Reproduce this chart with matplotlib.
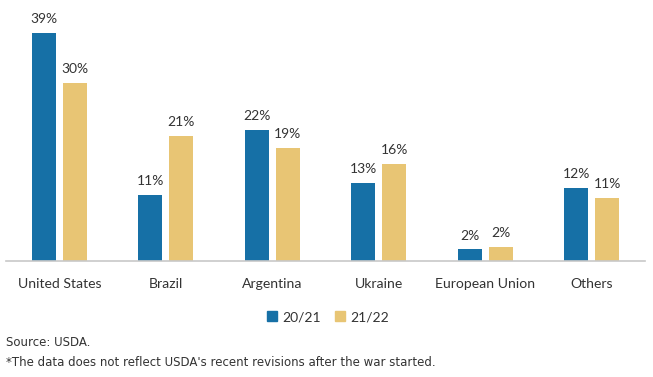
import numpy as np
import matplotlib.pyplot as plt
from matplotlib.patches import Patch

categories = ['United States', 'Brazil', 'Argentina', 'Ukraine', 'European Union', 'Others']
share_2021 = [38.6, 11.2, 22.2, 13.2, 2.0, 12.4]
share_2122 = [30.2, 21.2, 19.2, 16.4, 2.4, 10.7]
series_names = ['20/21', '21/22']

blue = '#1670a6'
gold = '#e8c574'
text_color = '#333333'
font = 'Lato'

fig = plt.figure(figsize=(6.53, 3.77), dpi=100)
ax = fig.add_axes([6 / 653, 116 / 377, 639 / 653, 261 / 377])

x = np.arange(len(categories))
width = 0.225
offset = 0.147

bars1 = ax.bar(x - offset, share_2021, width, color=blue)
bars2 = ax.bar(x + offset, share_2122, width, color=gold)

for bars, vals in [(bars1, share_2021), (bars2, share_2122)]:
    for b, v in zip(bars, vals):
        ax.text(b.get_x() + b.get_width() / 2, v + 1.3, f'{v:.0f}%',
                ha='center', va='bottom', fontsize=10, color=text_color,
                family=font)

ax.set_xlim(-0.5, len(categories) - 0.5)
ax.set_ylim(0, 44.2)
ax.set_yticks([])
ax.set_xticks(x)
ax.set_xticklabels(categories, fontsize=10.1, color=text_color, family=font)
ax.tick_params(axis='x', length=0, pad=12)
for s in ['top', 'right', 'left']:
    ax.spines[s].set_visible(False)
ax.spines['bottom'].set_color('#c8c8c8')
ax.spines['bottom'].set_linewidth(1.2)

handles = [Patch(color=blue), Patch(color=gold)]
fig.legend(handles, series_names, loc='center', bbox_to_anchor=(328 / 653, 1 - 317 / 377),
           ncol=2, frameon=False, handlelength=0.7, handleheight=0.7,
           handletextpad=0.4, columnspacing=1.0,
           prop={'family': font, 'size': 10}, labelcolor=text_color)

fig.text(6 / 653, 1 - 343 / 377, 'Source: USDA.', fontsize=8.5, color=text_color,
         va='center', family='Liberation Sans Narrow')
fig.text(6 / 653, 1 - 362 / 377,
         "*The data does not reflect USDA's recent revisions after the war started.",
         fontsize=8.5, color=text_color, va='center', family='Liberation Sans Narrow')

fig.savefig('out.png', dpi=100)
